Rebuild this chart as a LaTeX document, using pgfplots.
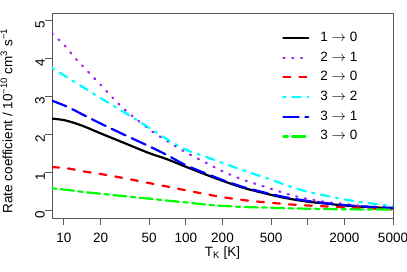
\documentclass[border=0pt]{standalone}
\usepackage{fontspec}
\setmainfont{Liberation Sans}
\usepackage{pgfplots}
\usepackage{pgfplotstable}
\pgfplotsset{compat=1.18}
\definecolor{rpurple}{HTML}{A020F0}
\definecolor{rred}{HTML}{FF0000}
\definecolor{rcyan}{HTML}{00FFFF}
\definecolor{rblue}{HTML}{0000FF}
\definecolor{rgreen}{HTML}{00FF00}
\pgfplotstableread{
T     a     b     c     d     e     f
8     2.42  4.66  1.14  3.75  2.89  0.58
10    2.38  4.37  1.12  3.56  2.77  0.55
12    2.31  4.06  1.08  3.40  2.65  0.52
15    2.20  3.73  1.02  3.21  2.49  0.48
20    2.03  3.31  0.96  2.96  2.29  0.44
30    1.80  2.72  0.86  2.62  2.02  0.38
50    1.51  2.14  0.72  2.18  1.69  0.31
70    1.35  1.83  0.63  1.88  1.46  0.26
100   1.15  1.53  0.53  1.60  1.19  0.21
150   0.93  1.24  0.42  1.40  0.96  0.15
200   0.78  1.03  0.35  1.25  0.80  0.12
300   0.59  0.80  0.27  1.05  0.61  0.09
500   0.41  0.57  0.20  0.81  0.43  0.07
700   0.31  0.42  0.16  0.64  0.33  0.055
1000  0.23  0.30  0.13  0.49  0.25  0.045
1500  0.17  0.21  0.10  0.37  0.18  0.035
2000  0.13  0.17  0.08  0.29  0.14  0.03
3000  0.09  0.11  0.055 0.20  0.10  0.025
5000  0.06  0.07  0.03  0.12  0.065 0.02
}\rates
\begin{document}
\fontsize{13.5}{16}\selectfont
\begin{tikzpicture}
\path[use as bounding box] (-52pt,-53pt) rectangle (355pt,218pt);
\begin{axis}[
  at={(0pt,0pt)}, anchor=south west,
  scale only axis, width=341pt, height=205pt,
  xmode=log, xmin=8, xmax=5000, ymin=-0.2, ymax=5.2,
  xtick={10,20,50,100,200,500,1000,2000,5000},
  xticklabels={10,20,50,100,200,500,,2000,5000},
  xminorticks=false,
  ytick={0,1,2,3,4,5},
  tick pos=left, tick align=outside, major tick length=7pt,
  axis line style={black!65, line width=0.8pt},
  tick style={black!65, line width=0.8pt},
  /pgf/number format/assume math mode=true,
  ticklabel style={font=\fontsize{13.5}{16}\selectfont},
  xticklabel style={anchor=north, inner sep=0pt, yshift=-8pt},
  yticklabel style={rotate=90, anchor=south, inner sep=0pt, xshift=-4pt},
  xlabel={T\textsubscript{K} [K]},
  xlabel style={at={(axis description cs:0.5,-0.14)}, anchor=north, inner sep=0pt, font=\fontsize{13.5}{16}\selectfont},
  ylabel={Rate coefficient / 10\textsuperscript{−10} cm\textsuperscript{3} s\textsuperscript{−1}},
  ylabel style={at={(axis description cs:-0.115,0.473)}, anchor=south, inner sep=0pt, font=\fontsize{13.5}{16}\selectfont},
  legend style={draw=none, fill=none, at={(0.6745,0.911)}, anchor=north west, inner sep=0pt,
    row sep=6.7pt, column sep=11pt, font=\fontsize{13.5}{16}\selectfont,
    nodes={inner sep=0pt, text height=10pt, text depth=3pt}},
  legend cell align=left,
  legend image code/.code={\draw[#1] (0pt,0pt) -- (25pt,0pt);},
  every axis plot/.append style={line width=2.2pt, line cap=round, smooth},
]
\addplot[black] table[x=T,y=a] {\rates};
\addlegendentry{1 $\rightarrow$ 0}
\addplot[rpurple, dash pattern=on 1.2pt off 7.6pt] table[x=T,y=b] {\rates};
\addlegendentry{2 $\rightarrow$ 1}
\addplot[rred, dash pattern=on 7pt off 9pt] table[x=T,y=c] {\rates};
\addlegendentry{2 $\rightarrow$ 0}
\addplot[rcyan, dash pattern=on 2.2pt off 6.6pt on 8.8pt off 6.6pt] table[x=T,y=d] {\rates};
\addlegendentry{3 $\rightarrow$ 2}
\addplot[rblue, dash pattern=on 15.4pt off 6.6pt] table[x=T,y=e] {\rates};
\addlegendentry{3 $\rightarrow$ 1}
\addplot[rgreen, dash pattern=on 4.4pt off 4.4pt on 13.2pt off 4.4pt] table[x=T,y=f] {\rates};
\addlegendentry{3 $\rightarrow$ 0}
\end{axis}
\end{tikzpicture}
\end{document}
